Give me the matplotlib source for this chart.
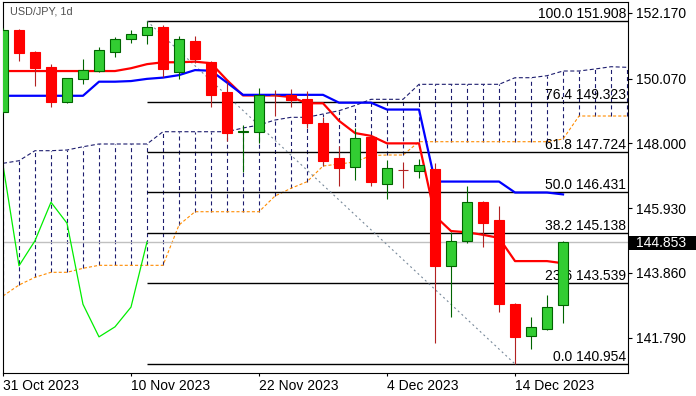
import matplotlib
matplotlib.use('Agg')
import matplotlib.pyplot as plt
from matplotlib.transforms import blended_transform_factory
from matplotlib.patches import Rectangle
import numpy as np

plt.rcParams['font.family'] = ['Liberation Sans', 'DejaVu Sans']
plt.rcParams['lines.scale_dashes'] = False

# ---------------- data ----------------
title = "USD/JPY, 1d"
date_labels = ["31 Oct 2023", "10 Nov 2023", "22 Nov 2023", "4 Dec 2023", "14 Dec 2023"]
date_label_bars = [0, 8, 16, 24, 32]

opens = [149.01, 151.62, 150.91, 150.44, 149.33, 150.05, 150.31, 150.93, 151.32, 151.45,
         151.71, 150.27, 151.27, 150.60, 149.64, 148.36, 148.35, 149.55, 149.53, 149.42,
         148.65, 147.53, 147.23, 148.19, 146.69, 147.16, 147.13, 147.17, 144.09, 144.89,
         146.14, 145.55, 142.87, 141.86, 142.06, 142.83]
highs = [151.70, 151.65, 150.95, 150.53, 150.09, 150.69, 151.09, 151.41, 151.62, 151.908,
         151.78, 151.43, 151.43, 150.62, 149.97, 148.59, 149.76, 149.70, 149.73, 149.68,
         148.85, 147.92, 148.50, 148.27, 147.47, 147.41, 147.49, 147.36, 145.18, 146.64,
         146.16, 146.01, 142.91, 142.46, 143.16, 144.88]
lows = [148.98, 150.63, 149.83, 149.17, 149.30, 149.90, 150.28, 150.77, 151.21, 151.18,
        150.13, 150.05, 150.56, 149.17, 148.09, 147.10, 148.00, 148.87, 149.17, 148.48,
        147.31, 146.65, 146.83, 146.65, 146.21, 146.56, 146.88, 141.63, 142.46, 144.81,
        144.70, 142.62, 140.954, 141.42, 142.05, 142.25]
closes = [151.62, 150.90, 150.42, 149.33, 150.08, 150.33, 150.97, 151.32, 151.49, 151.71,
          150.37, 151.32, 150.70, 149.55, 148.34, 148.38, 149.53, 149.53, 149.39, 148.66,
          147.45, 147.22, 148.17, 146.77, 147.20, 147.14, 147.31, 144.09, 144.89, 146.12,
          145.45, 142.86, 141.82, 142.14, 142.77, 144.853]

tenkan = [150.31, 150.31, 150.31, 150.31, 150.31, 150.31, 150.31, 150.31, 150.40, 150.53,
          150.59, 150.59, 150.61, 150.56, 150.02, 149.53, 149.53, 149.53, 149.48, 149.28,
          149.28, 148.72, 148.33, 148.24, 148.00, 148.00, 148.00, 145.68, 145.20, 145.16,
          145.08, 144.98, 144.24, 144.24, 144.24, 144.17]
kijun = [149.52, 149.52, 149.52, 149.52, 149.52, 149.52, 149.97, 149.97, 149.99, 150.06,
         150.10, 150.18, 150.34, 150.32, 149.94, 149.55, 149.55, 149.55, 149.55, 149.55,
         149.55, 149.30, 149.30, 149.30, 149.08, 149.08, 149.08, 146.78, 146.78, 146.78,
         146.78, 146.78, 146.43, 146.43, 146.43, 146.37]

span_a = [147.363, 147.446, 147.766, 147.766, 147.788, 147.893, 147.980, 147.980, 147.980, 147.980,
          148.372, 148.372, 148.372, 148.372, 148.372, 148.491, 148.586, 148.746, 148.832, 148.832,
          148.938, 149.043, 149.209, 149.407, 149.407, 149.407, 149.886, 149.886, 149.886, 149.886,
          149.886, 149.886, 150.097, 150.097, 150.161, 150.311, 150.311, 150.375, 150.448, 150.429]
span_b = [143.125, 143.476, 143.722, 143.882, 143.882, 144.010, 144.105, 144.105, 144.105, 144.105,
          144.105, 145.393, 145.817, 145.817, 145.817, 145.817, 145.817, 146.319, 146.565, 146.775,
          147.277, 147.341, 147.405, 147.612, 147.628, 147.628, 148.053, 148.053, 148.053, 148.053,
          148.053, 148.053, 148.053, 148.053, 148.053, 148.139, 148.874, 148.874, 148.874, 148.874]
chikou_shift = 26

fib_pct = ["0.0", "23.6", "38.2", "50.0", "61.8", "76.4", "100.0"]
fib_price = [140.954, 143.539, 145.138, 146.431, 147.724, 149.323, 151.908]
fib_start_bar = 9
fib_end_bar = 32
last_price = 144.853
y_ticks = [141.790, 143.860, 145.930, 148.000, 150.070, 152.170]

# ---------------- figure ----------------
W, H = 696, 396
fig = plt.figure(figsize=(W / 100, H / 100), dpi=100)
ax = fig.add_axes([2.5 / W, 23 / H, 625.5 / W, 371 / H])
ax.set_xlim(-0.03, 39.06)
ax.set_ylim(140.666, 152.515)

bars = np.arange(len(closes))
bars_cloud = np.arange(len(span_a))
o = np.array(opens); c = np.array(closes); h = np.array(highs); l = np.array(lows)

navy = '#1c1c6e'
orange = '#ff8c00'

# cloud
ax.vlines(bars_cloud, span_b, span_a, colors=navy, linewidth=0.8,
          linestyles=(0, (2.9, 2.2)), zorder=1)
ax.plot(bars_cloud, span_a, color=navy, linewidth=0.8, dashes=(2.9, 1.8), zorder=1)
ax.plot(bars_cloud, span_b, color=orange, linewidth=0.8, dashes=(2.2, 1.5), zorder=1)

# current price line
ax.axhline(last_price, color='#c0c0c0', linewidth=1.0, zorder=1.2)

# fibonacci
trans = blended_transform_factory(ax.transAxes, ax.transData)
for pct, pr in zip(fib_pct, fib_price):
    ax.hlines(pr, fib_start_bar, 39.06, colors='black', linewidth=1.0, zorder=1.5)
    ax.annotate(f"{pct} {pr:.3f}", xy=(1, pr), xycoords=trans, xytext=(-1.5, 2.2),
                textcoords='offset points', ha='right', va='baseline', fontsize=10,
                color='black', zorder=1.6)
ax.plot([fib_start_bar, fib_end_bar], [fib_price[-1], fib_price[0]], color='#778899',
        linewidth=0.8, dashes=(1.4, 2.2), zorder=1.5)

# chikou
ax.plot(bars[:-chikou_shift], c[chikou_shift:], color='#00ee00', linewidth=0.9, zorder=2)

# tenkan / kijun
ax.plot(bars, tenkan, color='#ff0000', linewidth=1.6, zorder=3)
ax.plot(bars, kijun, color='#0000ff', linewidth=1.6, zorder=3)

# candles
bull = c >= o
wick_col = np.where(bull, '#006400', '#b22222')
ax.vlines(bars, l, h, colors=wick_col, linewidth=0.8, zorder=4)
body_bottom = np.minimum(o, c)
body_h = np.maximum(np.abs(c - o), 0.012)
face = np.where(bull, '#32cd32', '#ff0000')
doji = np.abs(c - o) < 0.03
edge = np.where(bull, '#006400', np.where(doji, '#b22222', '#ff0000'))
ax.bar(bars, body_h, bottom=body_bottom, width=0.64, color=face, edgecolor=edge,
       linewidth=0.8, zorder=5)

# axes styling
for s in ax.spines.values():
    s.set_color('black')
    s.set_linewidth(0.8)
ax.yaxis.tick_right()
ax.set_yticks(y_ticks, [f"{v:.3f}" for v in y_ticks])
ax.set_xticks(date_label_bars, date_labels)
for lab in ax.get_xticklabels():
    lab.set_ha('left')
ax.tick_params(axis='y', direction='out', length=3, width=0.8, pad=3, labelsize=10,
               colors='black')
ax.tick_params(axis='x', direction='out', length=2.5, width=0.8, pad=1.5, labelsize=10,
               colors='black')

# title
ax.text(0.012, 0.988, title, transform=ax.transAxes, ha='left', va='top',
        fontsize=7.8, color='#505050', zorder=6)

# current price box
box_h = 14 / 31.31
ax.add_patch(Rectangle((1.0016, last_price - 0.04 - box_h / 2), 0.11, box_h, transform=trans,
                       facecolor='black', edgecolor='none', clip_on=False, zorder=10))
ax.text(1.0128, last_price - 0.04, f"{last_price:.3f}", transform=trans, ha='left',
        va='center', color='white', fontsize=10, clip_on=False, zorder=11)

fig.savefig('out.png', dpi=100)
